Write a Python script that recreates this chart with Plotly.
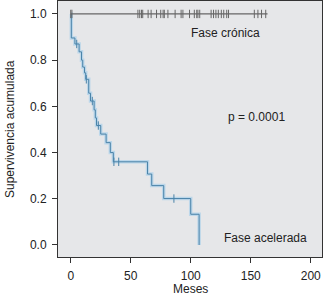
import plotly.graph_objects as go

# Accelerated phase Kaplan-Meier steps (months, cumulative survival)
acc_time = [0, 0.5, 3.5, 7, 9, 10, 11.5, 12.5, 15, 16.5, 19.5, 20.5, 21.5, 25, 29.5, 33, 35.5, 64, 67.5, 77.5, 100, 107]
acc_surv = [1.0, 0.896, 0.87, 0.836, 0.80, 0.77, 0.745, 0.717, 0.657, 0.623, 0.585, 0.55, 0.517, 0.48, 0.443, 0.40, 0.36, 0.307, 0.257, 0.201, 0.133, 0.0]
acc_censor = [5, 13, 18, 23, 36, 40, 86]

# Chronic phase: survival stays 1.0
chr_time = [0, 164]
chr_surv = [1.0, 1.0]
chr_censor = [0, 1, 56, 57.5, 59, 60, 64.5, 67, 71.5, 75, 77, 78, 81, 87, 92, 93.5, 99, 103,
              105, 106, 107.5, 117, 119, 121, 123, 125.5, 127.5, 130, 131.5, 153, 156, 159, 162.5]

x_ticks = [0, 50, 100, 150, 200]
y_ticks = [0.0, 0.2, 0.4, 0.6, 0.8, 1.0]


def surv_at(t, times, surv):
    s = surv[0]
    for ti, si in zip(times, surv):
        if ti <= t:
            s = si
    return s


acc_censor_y = [surv_at(t, acc_time, acc_surv) for t in acc_censor]
chr_censor_y = [surv_at(t, chr_time, chr_surv) for t in chr_censor]

blue = "#4a83a8"
halo = "#bcd7ea"
grey = "#666666"

fig = go.Figure()
fig.add_trace(go.Scatter(x=acc_time, y=acc_surv, mode="lines", line=dict(shape="hv", color=halo, width=3.5),
                         hoverinfo="skip", showlegend=False))
fig.add_trace(go.Scatter(x=acc_time, y=acc_surv, mode="lines", line=dict(shape="hv", color=blue, width=1),
                         showlegend=False))
fig.add_trace(go.Scatter(x=acc_censor, y=acc_censor_y, mode="markers",
                         marker=dict(symbol="line-ns", size=6, line=dict(color=blue, width=1)),
                         showlegend=False))
fig.add_trace(go.Scatter(x=chr_time, y=chr_surv, mode="lines", line=dict(color=grey, width=1.2),
                         showlegend=False))
fig.add_trace(go.Scatter(x=chr_censor, y=chr_censor_y, mode="markers",
                         marker=dict(symbol="line-ns", size=6, line=dict(color=grey, width=1)),
                         showlegend=False))

fam = "Liberation Sans, Arial, sans-serif"
font = dict(family=fam, size=12, color="#222222")
fig.add_annotation(x=129, y=0.917, text="Fase crónica", showarrow=False, font=font)
fig.add_annotation(x=155, y=0.552, text="p = 0.0001", showarrow=False, font=font)
fig.add_annotation(x=162.5, y=0.03, text="Fase acelerada", showarrow=False, font=font)

# axis titles
fig.add_annotation(xref="paper", yref="paper", x=0.5, y=0, yanchor="middle", yshift=-32,
                   text="Meses", showarrow=False, font=font)
fig.add_annotation(xref="paper", yref="paper", x=0, y=0.5, xanchor="center", xshift=-48,
                   textangle=-90, text="Supervivencia acumulada", showarrow=False, font=font)

axis_common = dict(ticks="outside", ticklen=5, tickcolor="#333", showgrid=False, zeroline=False,
                   showline=True, linecolor="#333", linewidth=1, mirror=True, automargin=False,
                   tickfont=dict(family=fam, size=12, color="#222"), ticklabelstandoff=3)

fig.update_layout(
    width=324, height=295,
    margin=dict(l=58, r=2, t=1, b=38),
    paper_bgcolor="white", plot_bgcolor="#e6e7e9",
    font=dict(family=fam, size=12, color="#222222"),
    xaxis=dict(range=[-10.6, 209.4], tickvals=x_ticks, ticktext=[str(v) for v in x_ticks], **axis_common),
    yaxis=dict(range=[-0.052, 1.056], tickvals=y_ticks, ticktext=[f"{v:.1f}" for v in y_ticks], **axis_common),
)

fig.write_html("out.html", config={"displayModeBar": False},
               post_script="document.body.style.margin='0';document.body.style.overflow='hidden';")
